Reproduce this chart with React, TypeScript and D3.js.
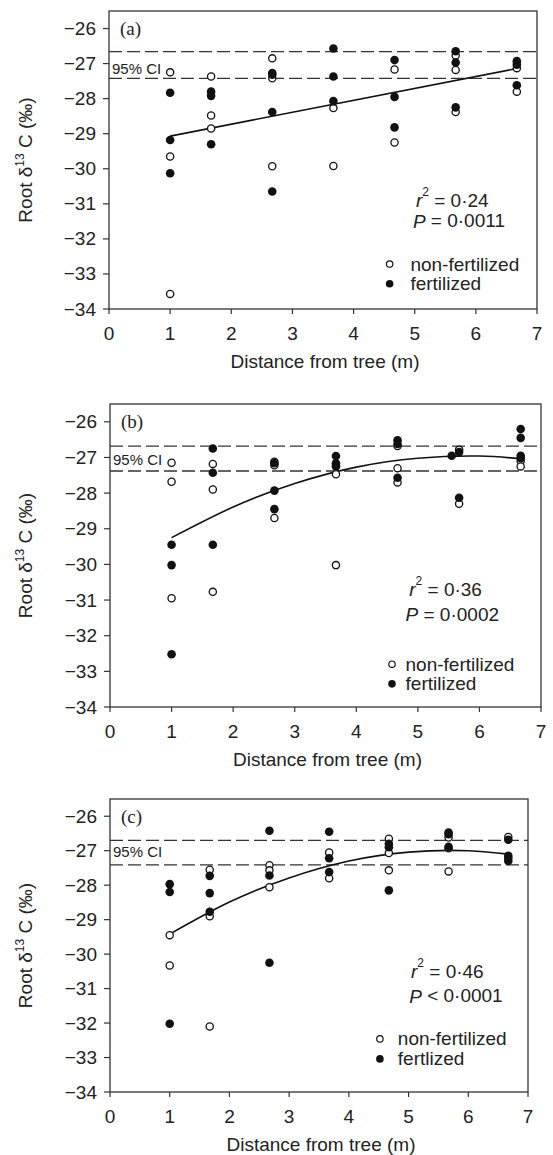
import React from 'react';
import * as d3 from 'd3';

// values: [distance (m), root d13C (permil)]
const aNonFert = [[1,-27.25],[1,-29.65],[1,-33.57],[1.67,-27.37],[1.67,-28.48],[1.67,-28.85],[2.67,-26.85],[2.67,-27.42],[2.67,-29.93],[3.67,-28.27],[3.67,-29.92],[4.67,-27.17],[4.67,-29.25],[5.67,-26.77],[5.67,-27.18],[5.67,-28.38],[6.67,-27.13],[6.67,-27.8]];
const aFert = [[1,-27.83],[1,-29.18],[1,-30.13],[1.67,-27.8],[1.67,-27.92],[1.67,-29.3],[2.67,-27.27],[2.67,-27.32],[2.67,-28.38],[2.67,-30.65],[3.67,-26.57],[3.67,-27.37],[3.67,-28.07],[4.67,-26.9],[4.67,-27.95],[4.67,-28.82],[5.67,-26.65],[5.67,-26.97],[5.67,-28.25],[6.67,-26.93],[6.67,-27.03],[6.67,-27.62]];
const aFit = [[1,-29.07],[6.67,-27.14]];
const aCI = [-26.66, -27.42];

const bNonFert = [[1,-27.15],[1,-27.68],[1,-30.95],[1.67,-27.18],[1.67,-27.9],[1.67,-30.77],[2.67,-27.12],[2.67,-27.22],[2.67,-28.7],[3.67,-27.22],[3.67,-27.47],[3.67,-30.02],[4.67,-26.68],[4.67,-27.3],[4.67,-27.7],[5.67,-26.78],[5.67,-28.3],[6.67,-27.1],[6.67,-27.25]];
const bFert = [[1,-29.45],[1,-30.02],[1,-32.52],[1.67,-26.75],[1.67,-27.43],[1.67,-29.45],[2.67,-27.16],[2.67,-27.93],[2.67,-28.45],[3.67,-26.96],[3.67,-27.16],[3.67,-27.25],[4.67,-26.52],[4.67,-26.62],[4.67,-27.57],[5.55,-26.95],[5.67,-26.85],[5.67,-28.13],[6.67,-26.2],[6.67,-26.45],[6.67,-26.95],[6.67,-27.02]];
const bFit = [[1,-29.25],[2,-28.39],[3,-27.73],[4,-27.27],[5,-27.02],[6,-26.96],[6.67,-27.04]];
const bCI = [-26.68, -27.38];

const cNonFert = [[1,-29.45],[1,-30.33],[1.67,-27.55],[1.67,-28.9],[1.67,-32.1],[2.67,-27.42],[2.67,-27.57],[2.67,-28.06],[3.67,-27.05],[3.67,-27.8],[4.67,-26.65],[4.67,-27.07],[4.67,-27.57],[5.67,-26.62],[5.67,-26.93],[5.67,-27.6],[6.67,-26.6],[6.67,-27.22]];
const cFert = [[1,-27.97],[1,-28.2],[1,-32.02],[1.67,-27.73],[1.67,-28.23],[1.67,-28.77],[2.67,-26.42],[2.67,-27.72],[2.67,-30.25],[3.67,-26.45],[3.67,-27.22],[3.67,-27.62],[4.67,-26.8],[4.67,-26.9],[4.67,-28.15],[5.67,-26.47],[5.67,-26.52],[5.67,-26.89],[6.67,-26.68],[6.67,-27.15],[6.67,-27.3]];
const cFit = [[1,-29.42],[2,-28.49],[3,-27.79],[4,-27.3],[5,-27.04],[6,-27.0],[6.67,-27.1]];
const cCI = [-26.7, -27.41];

const panelLabels = ['(a)', '(b)', '(c)'];
const r2Values = ['0·24', '0·36', '0·46'];
const pValues = ['= 0·0011', '= 0·0002', '< 0·0001'];
const legendA = ['non-fertilized', 'fertilized'];
const legendC = ['non-fertilized', 'fertlized'];
const xTicks = [0, 1, 2, 3, 4, 5, 6, 7];
const yTicks = [-34, -33, -32, -31, -30, -29, -28, -27, -26];

const FONT = '"Liberation Sans", Arial, Helvetica, sans-serif';
const INK = '#222';

// layout only (pixels, annotation anchors in data units)
const layouts = [
  { top: 11, bottom: 309, left: 109, right: 537, r2: [5.02, -30.88], p: [4.97, -31.48], leg: [4.59, -32.72, -33.28, 4.93], ciY: -27.15 },
  { top: 404, bottom: 707, left: 110, right: 541, r2: [4.86, -30.68], p: [4.80, -31.4], leg: [4.58, -32.8, -33.35, 4.80], ciY: -27.05 },
  { top: 799, bottom: 1092, left: 110, right: 528, r2: [5.04, -30.49], p: [5.01, -31.21], leg: [4.52, -32.46, -33.04, 4.82], ciY: -27.03 },
];

const panels = [
  { open: aNonFert, filled: aFert, fit: aFit, ci: aCI, legend: legendA, curve: d3.curveLinear },
  { open: bNonFert, filled: bFert, fit: bFit, ci: bCI, legend: legendA, curve: d3.curveNatural },
  { open: cNonFert, filled: cFert, fit: cFit, ci: cCI, legend: legendC, curve: d3.curveNatural },
];

function Panel({ i }: { i: number }) {
  const L = layouts[i];
  const P = panels[i];
  const x = d3.scaleLinear().domain([0, 7]).range([L.left, L.right]);
  const y = d3.scaleLinear().domain([-34, -25.5]).range([L.bottom, L.top]);
  const line = d3.line<number[]>().x(d => x(d[0])).y(d => y(d[1])).curve(P.curve);
  const fmt = d3.format('d');
  const midY = (L.top + L.bottom) / 2;

  return (
    <g>
      {/* dashed CI band */}
      {P.ci.map((v, k) => (
        <line key={k} x1={L.left} x2={L.right} y1={y(v)} y2={y(v)} stroke="#333" strokeWidth={1.3} strokeDasharray="13,5" />
      ))}
      <text x={L.left + 3} y={y(L.ciY)} dominantBaseline="central" fontFamily={FONT} fontSize={15} fill={INK}>95% CI</text>

      {/* frame */}
      <rect x={L.left} y={L.top} width={L.right - L.left} height={L.bottom - L.top} fill="none" stroke="#333" strokeWidth={1.3} />

      {/* y axis */}
      {yTicks.map(t => (
        <g key={t}>
          <line x1={L.left - 6} x2={L.left} y1={y(t)} y2={y(t)} stroke="#333" strokeWidth={1.2} />
          <text x={L.left - 13} y={y(t)} textAnchor="end" dominantBaseline="central" fontFamily={FONT} fontSize={19} fill={INK}>{fmt(t)}</text>
        </g>
      ))}
      {/* x axis */}
      {xTicks.map(t => (
        <g key={t}>
          <line x1={x(t)} x2={x(t)} y1={L.bottom} y2={L.bottom + 5} stroke="#333" strokeWidth={1.2} />
          <text x={x(t)} y={L.bottom + 31} textAnchor="middle" fontFamily={FONT} fontSize={19} fill={INK}>{t}</text>
        </g>
      ))}
      <text x={(L.left + L.right) / 2 + 2} y={L.bottom + 59} textAnchor="middle" fontFamily={FONT} fontSize={19} fill={INK}>Distance from tree (m)</text>
      <text transform={`translate(32,${midY}) rotate(-90)`} textAnchor="middle" fontFamily={FONT} fontSize={19} fill={INK}>
        Root δ<tspan dy={-8} fontSize={12}>13</tspan><tspan dy={8}> C (‰)</tspan>
      </text>

      <text x={L.left + 11} y={y(-26)} dominantBaseline="central" fontFamily='"Liberation Serif", "Times New Roman", serif' fontSize={19} fill={INK}>{panelLabels[i]}</text>

      {/* fitted curve */}
      <path d={line(P.fit) || ''} fill="none" stroke="#111" strokeWidth={1.6} />

      {/* points */}
      {P.open.map((d, k) => (
        <circle key={'o' + k} cx={x(d[0])} cy={y(d[1])} r={3.6} fill="#fff" stroke="#111" strokeWidth={1.3} />
      ))}
      {P.filled.map((d, k) => (
        <circle key={'f' + k} cx={x(d[0])} cy={y(d[1])} r={4.3} fill="#111" />
      ))}

      {/* stats */}
      <text x={x(L.r2[0])} y={y(L.r2[1])} dominantBaseline="central" fontFamily={FONT} fontSize={19} fill={INK}>
        <tspan fontStyle="italic">r</tspan><tspan dy={-8} fontSize={12}>2</tspan><tspan dy={8}> = {r2Values[i]}</tspan>
      </text>
      <text x={x(L.p[0])} y={y(L.p[1])} dominantBaseline="central" fontFamily={FONT} fontSize={19} fill={INK}>
        <tspan fontStyle="italic">P</tspan> {pValues[i]}
      </text>

      {/* legend */}
      <circle cx={x(L.leg[0])} cy={y(L.leg[1])} r={3.2} fill="#fff" stroke="#111" strokeWidth={1.2} />
      <circle cx={x(L.leg[0])} cy={y(L.leg[2])} r={3.8} fill="#111" />
      <text x={x(L.leg[3])} y={y(L.leg[1])} dominantBaseline="central" fontFamily={FONT} fontSize={19} fill={INK}>{P.legend[0]}</text>
      <text x={x(L.leg[3])} y={y(L.leg[2])} dominantBaseline="central" fontFamily={FONT} fontSize={19} fill={INK}>{P.legend[1]}</text>
    </g>
  );
}

export default function App() {
  return (
    <svg width={553} height={1155} style={{ position: 'absolute', left: 0, top: 0, background: '#fff' }}>
      <rect width={553} height={1155} fill="#fff" />
      {[0, 1, 2].map(i => <Panel key={i} i={i} />)}
    </svg>
  );
}
